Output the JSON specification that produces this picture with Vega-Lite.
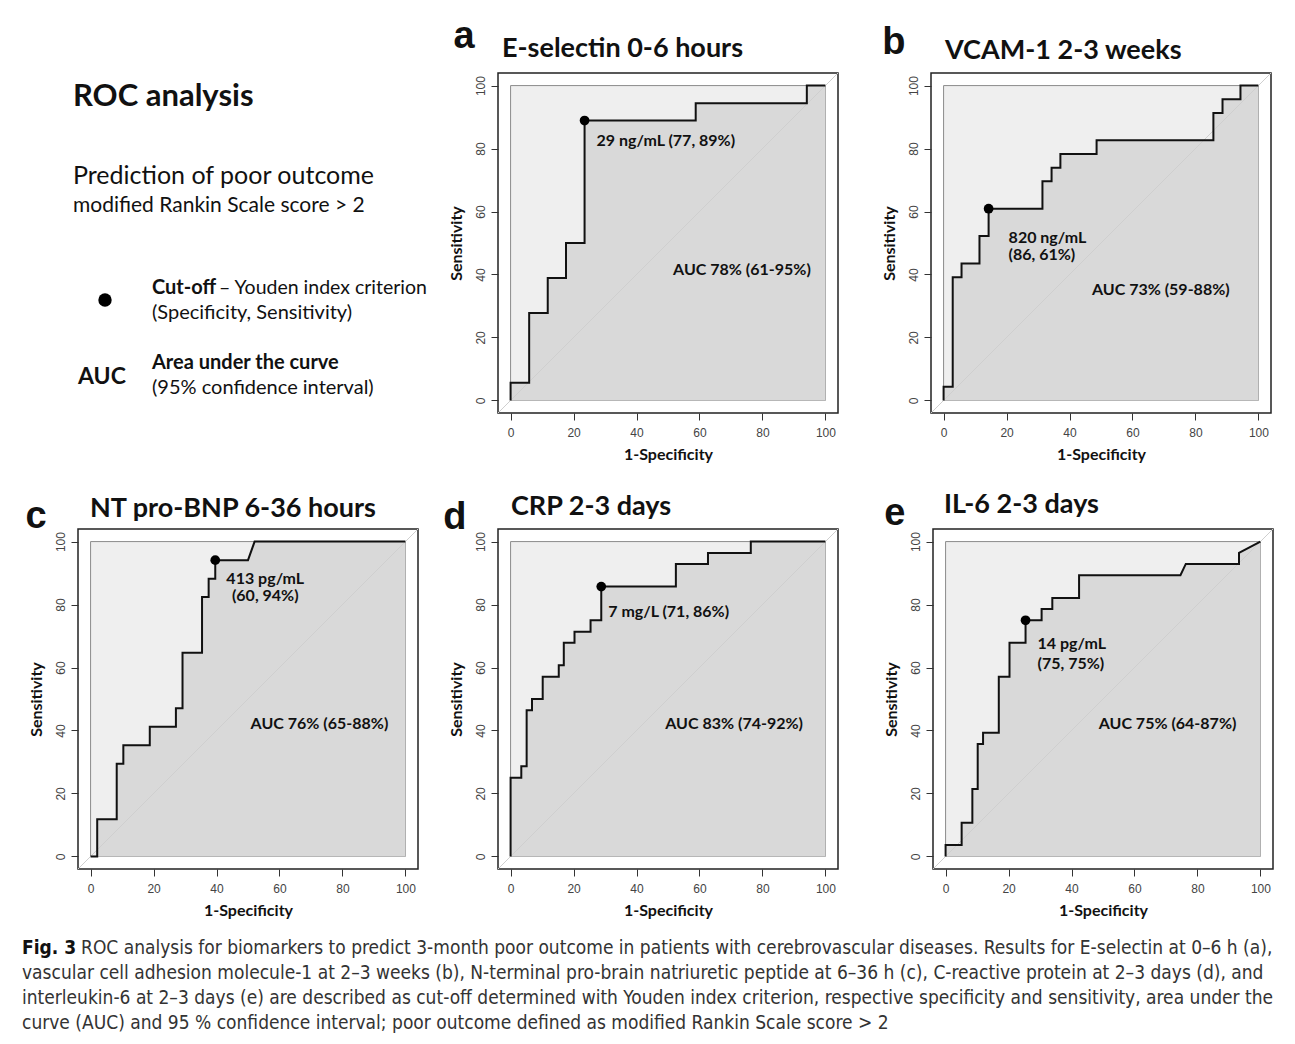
{
  "$schema": "https://vega.github.io/schema/vega-lite/v6.json",
  "background": "white",
  "padding": {"left": 22, "top": 17, "right": 5, "bottom": 5},
  "datasets": {
    "roc": [
      {"panel":"a","fpr":0,"tpr":0},{"panel":"a","fpr":0,"tpr":5.6},{"panel":"a","fpr":5.9,"tpr":5.6},{"panel":"a","fpr":5.9,"tpr":27.8},{"panel":"a","fpr":11.8,"tpr":27.8},{"panel":"a","fpr":11.8,"tpr":38.9},{"panel":"a","fpr":17.6,"tpr":38.9},{"panel":"a","fpr":17.6,"tpr":50},{"panel":"a","fpr":23.5,"tpr":50},{"panel":"a","fpr":23.5,"tpr":88.9},{"panel":"a","fpr":58.8,"tpr":88.9},{"panel":"a","fpr":58.8,"tpr":94.4},{"panel":"a","fpr":94.1,"tpr":94.4},{"panel":"a","fpr":94.1,"tpr":100},{"panel":"a","fpr":100,"tpr":100},
      {"panel":"b","fpr":0,"tpr":0},{"panel":"b","fpr":0,"tpr":4.3},{"panel":"b","fpr":2.9,"tpr":4.3},{"panel":"b","fpr":2.9,"tpr":39.1},{"panel":"b","fpr":5.7,"tpr":39.1},{"panel":"b","fpr":5.7,"tpr":43.5},{"panel":"b","fpr":11.4,"tpr":43.5},{"panel":"b","fpr":11.4,"tpr":52.2},{"panel":"b","fpr":14.3,"tpr":52.2},{"panel":"b","fpr":14.3,"tpr":60.9},{"panel":"b","fpr":31.4,"tpr":60.9},{"panel":"b","fpr":31.4,"tpr":69.6},{"panel":"b","fpr":34.3,"tpr":69.6},{"panel":"b","fpr":34.3,"tpr":73.9},{"panel":"b","fpr":37.1,"tpr":73.9},{"panel":"b","fpr":37.1,"tpr":78.3},{"panel":"b","fpr":48.6,"tpr":78.3},{"panel":"b","fpr":48.6,"tpr":82.6},{"panel":"b","fpr":85.7,"tpr":82.6},{"panel":"b","fpr":85.7,"tpr":91.3},{"panel":"b","fpr":88.6,"tpr":91.3},{"panel":"b","fpr":88.6,"tpr":95.7},{"panel":"b","fpr":94.3,"tpr":95.7},{"panel":"b","fpr":94.3,"tpr":100},{"panel":"b","fpr":100,"tpr":100},
      {"panel":"c","fpr":0,"tpr":0},{"panel":"c","fpr":2.1,"tpr":0},{"panel":"c","fpr":2.1,"tpr":11.8},{"panel":"c","fpr":8.3,"tpr":11.8},{"panel":"c","fpr":8.3,"tpr":29.4},{"panel":"c","fpr":10.4,"tpr":29.4},{"panel":"c","fpr":10.4,"tpr":35.3},{"panel":"c","fpr":18.8,"tpr":35.3},{"panel":"c","fpr":18.8,"tpr":41.2},{"panel":"c","fpr":27.1,"tpr":41.2},{"panel":"c","fpr":27.1,"tpr":47.1},{"panel":"c","fpr":29.2,"tpr":47.1},{"panel":"c","fpr":29.2,"tpr":64.7},{"panel":"c","fpr":35.4,"tpr":64.7},{"panel":"c","fpr":35.4,"tpr":82.4},{"panel":"c","fpr":37.5,"tpr":82.4},{"panel":"c","fpr":37.5,"tpr":88.2},{"panel":"c","fpr":39.6,"tpr":88.2},{"panel":"c","fpr":39.6,"tpr":94.1},{"panel":"c","fpr":50,"tpr":94.1},{"panel":"c","fpr":52.1,"tpr":100},{"panel":"c","fpr":100,"tpr":100},
      {"panel":"d","fpr":0,"tpr":0},{"panel":"d","fpr":0,"tpr":25},{"panel":"d","fpr":3.4,"tpr":25},{"panel":"d","fpr":3.4,"tpr":28.6},{"panel":"d","fpr":5.1,"tpr":28.6},{"panel":"d","fpr":5.1,"tpr":46.4},{"panel":"d","fpr":6.8,"tpr":46.4},{"panel":"d","fpr":6.8,"tpr":50},{"panel":"d","fpr":10.2,"tpr":50},{"panel":"d","fpr":10.2,"tpr":57.1},{"panel":"d","fpr":15.3,"tpr":57.1},{"panel":"d","fpr":15.3,"tpr":60.7},{"panel":"d","fpr":16.9,"tpr":60.7},{"panel":"d","fpr":16.9,"tpr":67.9},{"panel":"d","fpr":20.3,"tpr":67.9},{"panel":"d","fpr":20.3,"tpr":71.4},{"panel":"d","fpr":25.4,"tpr":71.4},{"panel":"d","fpr":25.4,"tpr":75},{"panel":"d","fpr":28.8,"tpr":75},{"panel":"d","fpr":28.8,"tpr":85.7},{"panel":"d","fpr":52.5,"tpr":85.7},{"panel":"d","fpr":52.5,"tpr":92.9},{"panel":"d","fpr":62.7,"tpr":92.9},{"panel":"d","fpr":62.7,"tpr":96.4},{"panel":"d","fpr":76.3,"tpr":96.4},{"panel":"d","fpr":76.3,"tpr":100},{"panel":"d","fpr":100,"tpr":100},
      {"panel":"e","fpr":0,"tpr":0},{"panel":"e","fpr":0,"tpr":3.6},{"panel":"e","fpr":5.1,"tpr":3.6},{"panel":"e","fpr":5.1,"tpr":10.7},{"panel":"e","fpr":8.5,"tpr":10.7},{"panel":"e","fpr":8.5,"tpr":21.4},{"panel":"e","fpr":10.2,"tpr":21.4},{"panel":"e","fpr":10.2,"tpr":35.7},{"panel":"e","fpr":11.9,"tpr":35.7},{"panel":"e","fpr":11.9,"tpr":39.3},{"panel":"e","fpr":16.9,"tpr":39.3},{"panel":"e","fpr":16.9,"tpr":57.1},{"panel":"e","fpr":20.3,"tpr":57.1},{"panel":"e","fpr":20.3,"tpr":67.9},{"panel":"e","fpr":25.4,"tpr":67.9},{"panel":"e","fpr":25.4,"tpr":75},{"panel":"e","fpr":30.5,"tpr":75},{"panel":"e","fpr":30.5,"tpr":78.6},{"panel":"e","fpr":33.9,"tpr":78.6},{"panel":"e","fpr":33.9,"tpr":82.1},{"panel":"e","fpr":42.4,"tpr":82.1},{"panel":"e","fpr":42.4,"tpr":89.3},{"panel":"e","fpr":74.6,"tpr":89.3},{"panel":"e","fpr":76.3,"tpr":92.9},{"panel":"e","fpr":93.2,"tpr":92.9},{"panel":"e","fpr":93.2,"tpr":96.4},{"panel":"e","fpr":100,"tpr":100}
    ],
    "cut": [
      {"panel":"a","fpr":23.5,"tpr":88.9,"label":["29 ng/mL (77, 89%)"],"auc":"AUC 78% (61-95%)"},
      {"panel":"b","fpr":14.3,"tpr":60.9,"label":["820 ng/mL","(86, 61%)"],"auc":"AUC 73% (59-88%)"},
      {"panel":"c","fpr":39.6,"tpr":94.1,"label":["413 pg/mL","(60, 94%)"],"auc":"AUC 76% (65-88%)"},
      {"panel":"d","fpr":28.8,"tpr":85.7,"label":["7 mg/L (71, 86%)"],"auc":"AUC 83% (74-92%)"},
      {"panel":"e","fpr":25.4,"tpr":75,"label":["14 pg/mL","(75, 75%)"],"auc":"AUC 75% (64-87%)"}
    ],
    "caption": [
      {"line":1,"lead":"Fig. 3","text":"ROC analysis for biomarkers to predict 3-month poor outcome in patients with cerebrovascular diseases. Results for E-selectin at 0–6 h (a),"},
      {"line":2,"text":"vascular cell adhesion molecule-1 at 2–3 weeks (b), N-terminal pro-brain natriuretic peptide at 6–36 h (c), C-reactive protein at 2–3 days (d), and"},
      {"line":3,"text":"interleukin-6 at 2–3 days (e) are described as cut-off determined with Youden index criterion, respective specificity and sensitivity, area under the"},
      {"line":4,"text":"curve (AUC) and 95 % confidence interval; poor outcome defined as modified Rankin Scale score > 2"}
    ]
  },
  "spacing": 16,
  "vconcat": [
    {
      "spacing": 26,
      "vconcat": [
        {
          "spacing": 9,
          "hconcat": [
            {
              "width": 360, "height": 340, "view": {"stroke": null},
              "data": {"values": [{"id": 1}]},
              "layer": [
                {"mark": {"type": "text", "text": "ROC analysis", "font": "Lato", "fontWeight": "bold", "fontSize": 31, "align": "left", "baseline": "alphabetic", "color": "#111"},
                 "encoding": {"x": {"datum": -5, "type": "quantitative", "scale": {"domain": [0, 360], "nice": false, "zero": false}, "axis": null}, "y": {"datum": 33, "type": "quantitative", "scale": {"domain": [0, 340], "reverse": true, "nice": false, "zero": false}, "axis": null}}},
                {"mark": {"type": "text", "text": "Prediction of poor outcome", "font": "Lato", "fontSize": 25, "align": "left", "baseline": "alphabetic", "color": "#111"},
                 "encoding": {"x": {"datum": -5, "type": "quantitative", "axis": null}, "y": {"datum": 111, "type": "quantitative", "axis": null}}},
                {"mark": {"type": "text", "text": "modified Rankin Scale score > 2", "font": "Lato", "fontSize": 21, "align": "left", "baseline": "alphabetic", "color": "#111"},
                 "encoding": {"x": {"datum": -5, "type": "quantitative", "axis": null}, "y": {"datum": 139, "type": "quantitative", "axis": null}}},
                {"mark": {"type": "point", "filled": true, "size": 180, "color": "#000", "opacity": 1},
                 "encoding": {"x": {"datum": 27, "type": "quantitative", "axis": null}, "y": {"datum": 227, "type": "quantitative", "axis": null}}},
                {"mark": {"type": "text", "text": "Cut-off", "font": "Lato", "fontWeight": "bold", "fontSize": 20, "align": "left", "baseline": "alphabetic", "color": "#111"},
                 "encoding": {"x": {"datum": 74, "type": "quantitative", "axis": null}, "y": {"datum": 221, "type": "quantitative", "axis": null}}},
                {"mark": {"type": "text", "text": "– Youden index criterion", "font": "Lato", "fontSize": 19.5, "align": "left", "baseline": "alphabetic", "color": "#111"},
                 "encoding": {"x": {"datum": 141, "type": "quantitative", "axis": null}, "y": {"datum": 221, "type": "quantitative", "axis": null}}},
                {"mark": {"type": "text", "text": "(Specificity, Sensitivity)", "font": "Lato", "fontSize": 20, "align": "left", "baseline": "alphabetic", "color": "#111"},
                 "encoding": {"x": {"datum": 74, "type": "quantitative", "axis": null}, "y": {"datum": 246, "type": "quantitative", "axis": null}}},
                {"mark": {"type": "text", "text": "AUC", "font": "Lato", "fontWeight": "bold", "fontSize": 23, "align": "left", "baseline": "alphabetic", "color": "#111"},
                 "encoding": {"x": {"datum": 0, "type": "quantitative", "axis": null}, "y": {"datum": 311, "type": "quantitative", "axis": null}}},
                {"mark": {"type": "text", "text": "Area under the curve", "font": "Lato", "fontWeight": "bold", "fontSize": 20, "align": "left", "baseline": "alphabetic", "color": "#111"},
                 "encoding": {"x": {"datum": 74, "type": "quantitative", "axis": null}, "y": {"datum": 296, "type": "quantitative", "axis": null}}},
                {"mark": {"type": "text", "text": "(95% confidence interval)", "font": "Lato", "fontSize": 20, "align": "left", "baseline": "alphabetic", "color": "#111"},
                 "encoding": {"x": {"datum": 74, "type": "quantitative", "axis": null}, "y": {"datum": 321, "type": "quantitative", "axis": null}}}
              ]
            },
            {
              "spacing": 40,
              "hconcat": [
                {
                  "width": 340, "height": 340,
                  "title": {"text": "E-selectin 0-6 hours", "dx": 4, "offset": -44.7},
                  "layer": [
                    {"data": {"name": "cut"}, "transform": [{"filter": "datum.panel === 'a'"}],
                     "mark": {"type": "rect", "fill": "#efefef", "stroke": "#8a8a8a", "strokeWidth": 1},
                     "encoding": {"x": {"datum": 0, "type": "quantitative", "scale": {"domain": [-4, 104], "nice": false, "zero": false}, "axis": {"title": "1-Specificity"}}, "x2": {"datum": 100}, "y": {"datum": 0, "type": "quantitative", "scale": {"domain": [-4, 104], "nice": false, "zero": false}, "axis": {"title": "Sensitivity"}}, "y2": {"datum": 100}}},
                    {"data": {"name": "roc"}, "transform": [{"filter": "datum.panel === 'a'"}],
                     "mark": {"type": "area", "fill": "#d9d9d9", "opacity": 1},
                     "encoding": {"x": {"field": "fpr", "type": "quantitative", "axis": {"title": "1-Specificity"}}, "y": {"field": "tpr", "type": "quantitative", "axis": {"title": "Sensitivity"}}, "y2": {"datum": 0}, "order": [{"field": "fpr", "type": "quantitative"}, {"field": "tpr", "type": "quantitative"}]}},
                    {"data": {"name": "cut"}, "transform": [{"filter": "datum.panel === 'a'"}],
                     "mark": {"type": "rule", "color": "#cfcfcf", "strokeWidth": 1},
                     "encoding": {"x": {"datum": -4, "type": "quantitative", "axis": {"title": "1-Specificity"}}, "y": {"datum": -4, "type": "quantitative", "axis": {"title": "Sensitivity"}}, "x2": {"datum": 104}, "y2": {"datum": 104}}},
                    {"data": {"name": "roc"}, "transform": [{"filter": "datum.panel === 'a'"}],
                     "mark": {"type": "line", "color": "#111", "strokeWidth": 2},
                     "encoding": {"x": {"field": "fpr", "type": "quantitative", "axis": {"title": "1-Specificity"}}, "y": {"field": "tpr", "type": "quantitative", "axis": {"title": "Sensitivity"}}, "order": [{"field": "fpr", "type": "quantitative"}, {"field": "tpr", "type": "quantitative"}]}},
                    {"data": {"name": "cut"}, "transform": [{"filter": "datum.panel === 'a'"}],
                     "mark": {"type": "point", "filled": true, "size": 95, "color": "#000", "opacity": 1},
                     "encoding": {"x": {"field": "fpr", "type": "quantitative", "axis": {"title": "1-Specificity"}}, "y": {"field": "tpr", "type": "quantitative", "axis": {"title": "Sensitivity"}}}},
                    {"data": {"name": "cut"}, "transform": [{"filter": "datum.panel === 'a'"}],
                     "mark": {"type": "text", "align": "left", "baseline": "top", "dx": 12, "dy": 12, "font": "Lato", "fontWeight": "bold", "fontSize": 16, "color": "#111"},
                     "encoding": {"x": {"field": "fpr", "type": "quantitative", "axis": {"title": "1-Specificity"}}, "y": {"field": "tpr", "type": "quantitative", "axis": {"title": "Sensitivity"}}, "text": {"field": "label", "type": "nominal"}}},
                    {"data": {"name": "cut"}, "transform": [{"filter": "datum.panel === 'a'"}],
                     "mark": {"type": "text", "align": "center", "baseline": "middle", "font": "Lato", "fontWeight": "bold", "fontSize": 16, "color": "#111"},
                     "encoding": {"x": {"datum": 73.5, "type": "quantitative", "axis": {"title": "1-Specificity"}}, "y": {"datum": 41.3, "type": "quantitative", "axis": {"title": "Sensitivity"}}, "text": {"field": "auc", "type": "nominal"}}},
                    {"data": {"name": "cut"}, "transform": [{"filter": "datum.panel === 'a'"}],
                     "mark": {"type": "text", "text": "a", "align": "center", "baseline": "alphabetic", "font": "Liberation Sans", "fontWeight": "bold", "fontSize": 38, "color": "#111"},
                     "encoding": {"x": {"datum": -14.8, "type": "quantitative", "axis": {"title": "1-Specificity"}}, "y": {"datum": 111.9, "type": "quantitative", "axis": {"title": "Sensitivity"}}}}
                  ]
                },
                {
                  "width": 340, "height": 340,
                  "title": {"text": "VCAM-1  2-3 weeks", "dx": 14, "offset": -40.7},
                  "layer": [
                    {"data": {"name": "cut"}, "transform": [{"filter": "datum.panel === 'b'"}],
                     "mark": {"type": "rect", "fill": "#efefef", "stroke": "#8a8a8a", "strokeWidth": 1},
                     "encoding": {"x": {"datum": 0, "type": "quantitative", "scale": {"domain": [-4, 104], "nice": false, "zero": false}, "axis": {"title": "1-Specificity"}}, "x2": {"datum": 100}, "y": {"datum": 0, "type": "quantitative", "scale": {"domain": [-4, 104], "nice": false, "zero": false}, "axis": {"title": "Sensitivity"}}, "y2": {"datum": 100}}},
                    {"data": {"name": "roc"}, "transform": [{"filter": "datum.panel === 'b'"}],
                     "mark": {"type": "area", "fill": "#d9d9d9", "opacity": 1},
                     "encoding": {"x": {"field": "fpr", "type": "quantitative", "axis": {"title": "1-Specificity"}}, "y": {"field": "tpr", "type": "quantitative", "axis": {"title": "Sensitivity"}}, "y2": {"datum": 0}, "order": [{"field": "fpr", "type": "quantitative"}, {"field": "tpr", "type": "quantitative"}]}},
                    {"data": {"name": "cut"}, "transform": [{"filter": "datum.panel === 'b'"}],
                     "mark": {"type": "rule", "color": "#cfcfcf", "strokeWidth": 1},
                     "encoding": {"x": {"datum": -4, "type": "quantitative", "axis": {"title": "1-Specificity"}}, "y": {"datum": -4, "type": "quantitative", "axis": {"title": "Sensitivity"}}, "x2": {"datum": 104}, "y2": {"datum": 104}}},
                    {"data": {"name": "roc"}, "transform": [{"filter": "datum.panel === 'b'"}],
                     "mark": {"type": "line", "color": "#111", "strokeWidth": 2},
                     "encoding": {"x": {"field": "fpr", "type": "quantitative", "axis": {"title": "1-Specificity"}}, "y": {"field": "tpr", "type": "quantitative", "axis": {"title": "Sensitivity"}}, "order": [{"field": "fpr", "type": "quantitative"}, {"field": "tpr", "type": "quantitative"}]}},
                    {"data": {"name": "cut"}, "transform": [{"filter": "datum.panel === 'b'"}],
                     "mark": {"type": "point", "filled": true, "size": 95, "color": "#000", "opacity": 1},
                     "encoding": {"x": {"field": "fpr", "type": "quantitative", "axis": {"title": "1-Specificity"}}, "y": {"field": "tpr", "type": "quantitative", "axis": {"title": "Sensitivity"}}}},
                    {"data": {"name": "cut"}, "transform": [{"filter": "datum.panel === 'b'"}],
                     "mark": {"type": "text", "align": "left", "baseline": "top", "dx": 20, "dy": 21, "lineHeight": 17, "font": "Lato", "fontWeight": "bold", "fontSize": 16, "color": "#111"},
                     "encoding": {"x": {"field": "fpr", "type": "quantitative", "axis": {"title": "1-Specificity"}}, "y": {"field": "tpr", "type": "quantitative", "axis": {"title": "Sensitivity"}}, "text": {"field": "label", "type": "nominal"}}},
                    {"data": {"name": "cut"}, "transform": [{"filter": "datum.panel === 'b'"}],
                     "mark": {"type": "text", "align": "center", "baseline": "middle", "font": "Lato", "fontWeight": "bold", "fontSize": 16, "color": "#111"},
                     "encoding": {"x": {"datum": 69, "type": "quantitative", "axis": {"title": "1-Specificity"}}, "y": {"datum": 35, "type": "quantitative", "axis": {"title": "Sensitivity"}}, "text": {"field": "auc", "type": "nominal"}}},
                    {"data": {"name": "cut"}, "transform": [{"filter": "datum.panel === 'b'"}],
                     "mark": {"type": "text", "text": "b", "align": "center", "baseline": "alphabetic", "font": "Liberation Sans", "fontWeight": "bold", "fontSize": 38, "color": "#111"},
                     "encoding": {"x": {"datum": -15.8, "type": "quantitative", "axis": {"title": "1-Specificity"}}, "y": {"datum": 110, "type": "quantitative", "axis": {"title": "Sensitivity"}}}}
                  ]
                }
              ]
            }
          ]
        },
        {
          "spacing": 42,
          "hconcat": [
            {
              "spacing": 22,
              "hconcat": [
                {
                  "width": 340, "height": 340,
                  "title": {"text": "NT pro-BNP 6-36 hours", "dx": 12, "offset": -24.7},
                  "layer": [
                    {"data": {"name": "cut"}, "transform": [{"filter": "datum.panel === 'c'"}],
                     "mark": {"type": "rect", "fill": "#efefef", "stroke": "#8a8a8a", "strokeWidth": 1},
                     "encoding": {"x": {"datum": 0, "type": "quantitative", "scale": {"domain": [-4, 104], "nice": false, "zero": false}, "axis": {"title": "1-Specificity"}}, "x2": {"datum": 100}, "y": {"datum": 0, "type": "quantitative", "scale": {"domain": [-4, 104], "nice": false, "zero": false}, "axis": {"title": "Sensitivity"}}, "y2": {"datum": 100}}},
                    {"data": {"name": "roc"}, "transform": [{"filter": "datum.panel === 'c'"}],
                     "mark": {"type": "area", "fill": "#d9d9d9", "opacity": 1},
                     "encoding": {"x": {"field": "fpr", "type": "quantitative", "axis": {"title": "1-Specificity"}}, "y": {"field": "tpr", "type": "quantitative", "axis": {"title": "Sensitivity"}}, "y2": {"datum": 0}, "order": [{"field": "fpr", "type": "quantitative"}, {"field": "tpr", "type": "quantitative"}]}},
                    {"data": {"name": "cut"}, "transform": [{"filter": "datum.panel === 'c'"}],
                     "mark": {"type": "rule", "color": "#cfcfcf", "strokeWidth": 1},
                     "encoding": {"x": {"datum": -4, "type": "quantitative", "axis": {"title": "1-Specificity"}}, "y": {"datum": -4, "type": "quantitative", "axis": {"title": "Sensitivity"}}, "x2": {"datum": 104}, "y2": {"datum": 104}}},
                    {"data": {"name": "roc"}, "transform": [{"filter": "datum.panel === 'c'"}],
                     "mark": {"type": "line", "color": "#111", "strokeWidth": 2},
                     "encoding": {"x": {"field": "fpr", "type": "quantitative", "axis": {"title": "1-Specificity"}}, "y": {"field": "tpr", "type": "quantitative", "axis": {"title": "Sensitivity"}}, "order": [{"field": "fpr", "type": "quantitative"}, {"field": "tpr", "type": "quantitative"}]}},
                    {"data": {"name": "cut"}, "transform": [{"filter": "datum.panel === 'c'"}],
                     "mark": {"type": "point", "filled": true, "size": 95, "color": "#000", "opacity": 1},
                     "encoding": {"x": {"field": "fpr", "type": "quantitative", "axis": {"title": "1-Specificity"}}, "y": {"field": "tpr", "type": "quantitative", "axis": {"title": "Sensitivity"}}}},
                    {"data": {"name": "cut"}, "transform": [{"filter": "datum.panel === 'c'"}],
                     "mark": {"type": "text", "align": "center", "baseline": "top", "dx": 50, "dy": 11, "lineHeight": 17, "font": "Lato", "fontWeight": "bold", "fontSize": 16, "color": "#111"},
                     "encoding": {"x": {"field": "fpr", "type": "quantitative", "axis": {"title": "1-Specificity"}}, "y": {"field": "tpr", "type": "quantitative", "axis": {"title": "Sensitivity"}}, "text": {"field": "label", "type": "nominal"}}},
                    {"data": {"name": "cut"}, "transform": [{"filter": "datum.panel === 'c'"}],
                     "mark": {"type": "text", "align": "center", "baseline": "middle", "font": "Lato", "fontWeight": "bold", "fontSize": 16, "color": "#111"},
                     "encoding": {"x": {"datum": 72.7, "type": "quantitative", "axis": {"title": "1-Specificity"}}, "y": {"datum": 42, "type": "quantitative", "axis": {"title": "Sensitivity"}}, "text": {"field": "auc", "type": "nominal"}}},
                    {"data": {"name": "cut"}, "transform": [{"filter": "datum.panel === 'c'"}],
                     "mark": {"type": "text", "text": "c", "align": "center", "baseline": "alphabetic", "font": "Liberation Sans", "fontWeight": "bold", "fontSize": 38, "color": "#111"},
                     "encoding": {"x": {"datum": -17.3, "type": "quantitative", "axis": {"title": "1-Specificity"}}, "y": {"datum": 104.3, "type": "quantitative", "axis": {"title": "Sensitivity"}}}}
                  ]
                },
                {
                  "width": 340, "height": 340,
                  "title": {"text": "CRP 2-3 days", "dx": 13, "offset": -21.7},
                  "layer": [
                    {"data": {"name": "cut"}, "transform": [{"filter": "datum.panel === 'd'"}],
                     "mark": {"type": "rect", "fill": "#efefef", "stroke": "#8a8a8a", "strokeWidth": 1},
                     "encoding": {"x": {"datum": 0, "type": "quantitative", "scale": {"domain": [-4, 104], "nice": false, "zero": false}, "axis": {"title": "1-Specificity"}}, "x2": {"datum": 100}, "y": {"datum": 0, "type": "quantitative", "scale": {"domain": [-4, 104], "nice": false, "zero": false}, "axis": {"title": "Sensitivity"}}, "y2": {"datum": 100}}},
                    {"data": {"name": "roc"}, "transform": [{"filter": "datum.panel === 'd'"}],
                     "mark": {"type": "area", "fill": "#d9d9d9", "opacity": 1},
                     "encoding": {"x": {"field": "fpr", "type": "quantitative", "axis": {"title": "1-Specificity"}}, "y": {"field": "tpr", "type": "quantitative", "axis": {"title": "Sensitivity"}}, "y2": {"datum": 0}, "order": [{"field": "fpr", "type": "quantitative"}, {"field": "tpr", "type": "quantitative"}]}},
                    {"data": {"name": "cut"}, "transform": [{"filter": "datum.panel === 'd'"}],
                     "mark": {"type": "rule", "color": "#cfcfcf", "strokeWidth": 1},
                     "encoding": {"x": {"datum": -4, "type": "quantitative", "axis": {"title": "1-Specificity"}}, "y": {"datum": -4, "type": "quantitative", "axis": {"title": "Sensitivity"}}, "x2": {"datum": 104}, "y2": {"datum": 104}}},
                    {"data": {"name": "roc"}, "transform": [{"filter": "datum.panel === 'd'"}],
                     "mark": {"type": "line", "color": "#111", "strokeWidth": 2},
                     "encoding": {"x": {"field": "fpr", "type": "quantitative", "axis": {"title": "1-Specificity"}}, "y": {"field": "tpr", "type": "quantitative", "axis": {"title": "Sensitivity"}}, "order": [{"field": "fpr", "type": "quantitative"}, {"field": "tpr", "type": "quantitative"}]}},
                    {"data": {"name": "cut"}, "transform": [{"filter": "datum.panel === 'd'"}],
                     "mark": {"type": "point", "filled": true, "size": 95, "color": "#000", "opacity": 1},
                     "encoding": {"x": {"field": "fpr", "type": "quantitative", "axis": {"title": "1-Specificity"}}, "y": {"field": "tpr", "type": "quantitative", "axis": {"title": "Sensitivity"}}}},
                    {"data": {"name": "cut"}, "transform": [{"filter": "datum.panel === 'd'"}],
                     "mark": {"type": "text", "align": "left", "baseline": "top", "dx": 7, "dy": 17, "font": "Lato", "fontWeight": "bold", "fontSize": 16, "color": "#111"},
                     "encoding": {"x": {"field": "fpr", "type": "quantitative", "axis": {"title": "1-Specificity"}}, "y": {"field": "tpr", "type": "quantitative", "axis": {"title": "Sensitivity"}}, "text": {"field": "label", "type": "nominal"}}},
                    {"data": {"name": "cut"}, "transform": [{"filter": "datum.panel === 'd'"}],
                     "mark": {"type": "text", "align": "center", "baseline": "middle", "font": "Lato", "fontWeight": "bold", "fontSize": 16, "color": "#111"},
                     "encoding": {"x": {"datum": 71, "type": "quantitative", "axis": {"title": "1-Specificity"}}, "y": {"datum": 42, "type": "quantitative", "axis": {"title": "Sensitivity"}}, "text": {"field": "auc", "type": "nominal"}}},
                    {"data": {"name": "cut"}, "transform": [{"filter": "datum.panel === 'd'"}],
                     "mark": {"type": "text", "text": "d", "align": "center", "baseline": "alphabetic", "font": "Liberation Sans", "fontWeight": "bold", "fontSize": 38, "color": "#111"},
                     "encoding": {"x": {"datum": -17.7, "type": "quantitative", "axis": {"title": "1-Specificity"}}, "y": {"datum": 104, "type": "quantitative", "axis": {"title": "Sensitivity"}}}}
                  ]
                }
              ]
            },
            {
              "width": 340, "height": 340,
              "title": {"text": "IL-6  2-3 days", "dx": 11, "offset": -23.7},
              "layer": [
                {"data": {"name": "cut"}, "transform": [{"filter": "datum.panel === 'e'"}],
                 "mark": {"type": "rect", "fill": "#efefef", "stroke": "#8a8a8a", "strokeWidth": 1},
                 "encoding": {"x": {"datum": 0, "type": "quantitative", "scale": {"domain": [-4, 104], "nice": false, "zero": false}, "axis": {"title": "1-Specificity"}}, "x2": {"datum": 100}, "y": {"datum": 0, "type": "quantitative", "scale": {"domain": [-4, 104], "nice": false, "zero": false}, "axis": {"title": "Sensitivity"}}, "y2": {"datum": 100}}},
                {"data": {"name": "roc"}, "transform": [{"filter": "datum.panel === 'e'"}],
                 "mark": {"type": "area", "fill": "#d9d9d9", "opacity": 1},
                 "encoding": {"x": {"field": "fpr", "type": "quantitative", "axis": {"title": "1-Specificity"}}, "y": {"field": "tpr", "type": "quantitative", "axis": {"title": "Sensitivity"}}, "y2": {"datum": 0}, "order": [{"field": "fpr", "type": "quantitative"}, {"field": "tpr", "type": "quantitative"}]}},
                {"data": {"name": "cut"}, "transform": [{"filter": "datum.panel === 'e'"}],
                 "mark": {"type": "rule", "color": "#cfcfcf", "strokeWidth": 1},
                 "encoding": {"x": {"datum": -4, "type": "quantitative", "axis": {"title": "1-Specificity"}}, "y": {"datum": -4, "type": "quantitative", "axis": {"title": "Sensitivity"}}, "x2": {"datum": 104}, "y2": {"datum": 104}}},
                {"data": {"name": "roc"}, "transform": [{"filter": "datum.panel === 'e'"}],
                 "mark": {"type": "line", "color": "#111", "strokeWidth": 2},
                 "encoding": {"x": {"field": "fpr", "type": "quantitative", "axis": {"title": "1-Specificity"}}, "y": {"field": "tpr", "type": "quantitative", "axis": {"title": "Sensitivity"}}, "order": [{"field": "fpr", "type": "quantitative"}, {"field": "tpr", "type": "quantitative"}]}},
                {"data": {"name": "cut"}, "transform": [{"filter": "datum.panel === 'e'"}],
                 "mark": {"type": "point", "filled": true, "size": 95, "color": "#000", "opacity": 1},
                 "encoding": {"x": {"field": "fpr", "type": "quantitative", "axis": {"title": "1-Specificity"}}, "y": {"field": "tpr", "type": "quantitative", "axis": {"title": "Sensitivity"}}}},
                {"data": {"name": "cut"}, "transform": [{"filter": "datum.panel === 'e'"}],
                 "mark": {"type": "text", "align": "left", "baseline": "top", "dx": 12, "dy": 16, "lineHeight": 19.5, "font": "Lato", "fontWeight": "bold", "fontSize": 16, "color": "#111"},
                 "encoding": {"x": {"field": "fpr", "type": "quantitative", "axis": {"title": "1-Specificity"}}, "y": {"field": "tpr", "type": "quantitative", "axis": {"title": "Sensitivity"}}, "text": {"field": "label", "type": "nominal"}}},
                {"data": {"name": "cut"}, "transform": [{"filter": "datum.panel === 'e'"}],
                 "mark": {"type": "text", "align": "center", "baseline": "middle", "font": "Lato", "fontWeight": "bold", "fontSize": 16, "color": "#111"},
                 "encoding": {"x": {"datum": 70.5, "type": "quantitative", "axis": {"title": "1-Specificity"}}, "y": {"datum": 42, "type": "quantitative", "axis": {"title": "Sensitivity"}}, "text": {"field": "auc", "type": "nominal"}}},
                {"data": {"name": "cut"}, "transform": [{"filter": "datum.panel === 'e'"}],
                 "mark": {"type": "text", "text": "e", "align": "center", "baseline": "alphabetic", "font": "Liberation Sans", "fontWeight": "bold", "fontSize": 38, "color": "#111"},
                 "encoding": {"x": {"datum": -16.1, "type": "quantitative", "axis": {"title": "1-Specificity"}}, "y": {"datum": 105.3, "type": "quantitative", "axis": {"title": "Sensitivity"}}}}
              ]
            }
          ]
        }
      ]
    },
    {
      "width": 1230, "height": 100, "view": {"stroke": null},
      "data": {"name": "caption"},
      "layer": [
        {"transform": [{"filter": "datum.line > 1"}],
         "mark": {"type": "text", "align": "left", "baseline": "middle", "font": "Liberation Sans Narrow, DejaVu Sans Condensed, sans-serif", "fontSize": 19, "color": "#333", "dx": -56},
         "encoding": {"x": {"datum": 0, "type": "quantitative", "scale": {"domain": [0, 1], "nice": false}, "axis": null}, "y": {"field": "line", "type": "ordinal", "scale": {"type": "point", "padding": 0.5, "domain": [1, 2, 3, 4]}, "axis": null}, "text": {"field": "text", "type": "nominal"}}},
        {"transform": [{"filter": "datum.line === 1"}],
         "mark": {"type": "text", "align": "left", "baseline": "middle", "font": "Liberation Sans Narrow, DejaVu Sans Condensed, sans-serif", "fontSize": 19, "color": "#333", "dx": 3},
         "encoding": {"x": {"datum": 0, "type": "quantitative", "axis": null}, "y": {"field": "line", "type": "ordinal", "axis": null}, "text": {"field": "text", "type": "nominal"}}},
        {"transform": [{"filter": "datum.line === 1"}],
         "mark": {"type": "text", "align": "left", "baseline": "middle", "font": "Liberation Sans Narrow, DejaVu Sans Condensed, sans-serif", "fontWeight": "bold", "fontSize": 19, "color": "#111", "dx": -56},
         "encoding": {"x": {"datum": 0, "type": "quantitative", "axis": null}, "y": {"field": "line", "type": "ordinal", "axis": null}, "text": {"field": "lead", "type": "nominal"}}}
      ]
    }
  ],
  "config": {
    "view": {"stroke": "#222", "strokeWidth": 1.5},
    "title": {"font": "Lato", "fontWeight": "bold", "fontSize": 27, "color": "#111", "anchor": "start", "frame": "group"},
    "axis": {"domain": false, "grid": false, "ticks": true, "tickCount": 5, "tickSize": 7, "tickColor": "#333", "tickWidth": 1, "labelFont": "Liberation Sans", "labelFontSize": 12, "labelColor": "#444", "titleFont": "Lato", "titleFontWeight": "bold", "titleFontSize": 16, "titleColor": "#111"},
    "axisX": {"labelPadding": 7, "titlePadding": 8},
    "axisY": {"labelAngle": -90, "labelAlign": "center", "labelBaseline": "bottom", "labelPadding": 4, "titlePadding": 10}
  }
}
